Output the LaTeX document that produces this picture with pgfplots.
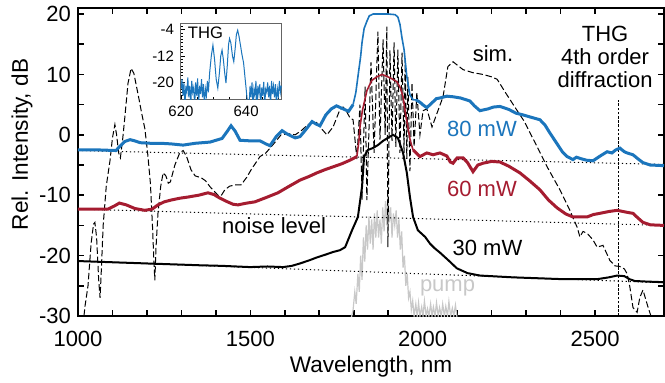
\documentclass[border=0pt]{standalone}
\usepackage{pgfplots}
\pgfplotsset{compat=1.18}
\usepackage{fontspec}
\setmainfont{Liberation Sans}
\definecolor{cblue}{RGB}{27,117,188}
\definecolor{cred}{RGB}{165,28,48}
\definecolor{cgray}{RGB}{200,200,200}
\definecolor{cframe}{RGB}{100,100,100}
\begin{document}
\begin{tikzpicture}
\begin{axis}[
  at={(0pt,0pt)}, anchor=south west,
  scale only axis, width=293pt, height=154pt,
  xmin=1000, xmax=2700, ymin=-30, ymax=21,
  axis line style={line width=1pt},
  tick align=inside,
  xtick={1000,1500,2000,2500}, minor x tick num=4,
  ytick={-30,-20,-10,0,10,20}, minor y tick num=1,
  major tick length=3pt, minor tick length=3pt,
  every tick/.style={line width=0.8pt, black},
  tick label style={font=\fontsize{11}{13}\selectfont},
  /pgf/number format/assume math mode=true,
  /pgf/number format/1000 sep={},
  xticklabel shift=4pt,
  label style={font=\fontsize{11.3}{13}\selectfont},
  xlabel={Wavelength, nm},
  ylabel={Rel. Intensity, dB},
  xlabel style={at={(rel axis cs:0.5,0)}, anchor=base, yshift=-28pt},
  ylabel style={at={(rel axis cs:0,0.557)}, anchor=center, yshift=28pt},
]
% pump
\addplot[cgray, line width=0.6pt] coordinates {
(1790,-31) (1798,-29) (1803,-26) (1807,-28) (1812,-23) (1816,-26) (1820,-20) (1824,-24) (1828,-17) (1832,-21)
(1836,-15) (1840,-19) (1844,-13.5) (1848,-18) (1852,-14) (1856,-19) (1860,-13) (1864,-17) (1868,-12.5) (1872,-17)
(1876,-14) (1880,-18) (1884,-12) (1888,-16) (1892,-11) (1896,-15) (1899,-10) (1903,-14.5) (1907,-12) (1911,-17)
(1915,-13) (1919,-15) (1923,-12.5) (1927,-17) (1931,-14) (1935,-19) (1939,-16) (1943,-22) (1947,-20) (1951,-25)
(1955,-23) (1959,-27) (1963,-26) (1967,-29) (1971,-27.5) (1975,-30) (1980,-28) (1984,-30) (1988,-27.8) (1992,-30)
(1997,-28.5) (2001,-30) (2005,-27.5) (2010,-30) (2014,-28.8) (2018,-30) (2023,-28) (2027,-30) (2031,-28.5) (2036,-30)
(2040,-27.8) (2045,-30) (2049,-28.6) (2054,-30) (2058,-28) (2063,-30) (2067,-28.4) (2072,-30) (2076,-27.6) (2081,-30)
(2086,-28.7) (2090,-30) (2095,-28.2) (2100,-30.5)
};
% noise levels
\addplot[black, line width=0.5pt, dash pattern=on 0.6pt off 1.4pt] coordinates {(1000,-2.6) (2700,-4.9)};
\addplot[black, line width=0.5pt, dash pattern=on 0.6pt off 1.4pt] coordinates {(1000,-12.3) (2700,-15.0)};
\addplot[black, line width=0.5pt, dash pattern=on 0.6pt off 1.4pt] coordinates {(1000,-20.9) (2700,-24.5)};
% THG 4th order marker
\addplot[black, line width=0.5pt, dash pattern=on 1.3pt off 0.8pt] coordinates {(2569,-30) (2569,5.8)};
% simulation
\addplot[black, line width=0.5pt, dash pattern=on 3.2pt off 1.4pt] coordinates {
(1012,-33) (1020,-28.5) (1029,-25) (1038,-18) (1045,-14.8) (1049,-14.5) (1054,-17) (1060,-24) (1064,-27) (1068,-22)
(1073,-15) (1082,-8.5) (1093,-4.2) (1100,-0.5) (1107,1.7) (1112,0) (1118,-3) (1123,-3.8) (1130,-0.5) (1136,3.0)
(1145,8.5) (1154,11) (1162,10.2) (1175,6.5) (1185,3.5) (1194,1) (1202,-3) (1210,-8) (1216,-15) (1221,-22)
(1223,-24.1) (1226,-19) (1232,-13) (1240,-8.5) (1247,-6.3) (1255,-6.8) (1262,-8.0) (1268,-7.8) (1281,-5.0) (1295,-3.0)
(1305,-2.6) (1315,-3.6) (1328,-5.8) (1340,-6.8) (1357,-7.1) (1370,-7.6) (1383,-8.6) (1406,-10) (1415,-10.1) (1426,-9.1)
(1440,-8.5) (1455,-8.3) (1473,-8.3) (1490,-7.0) (1502,-5.8) (1515,-4.7) (1528,-3.6) (1545,-3.0) (1560,-2.0) (1575,-1.0)
(1589,0) (1610,0.2) (1630,0) (1650,0.8) (1667,1.7) (1690,2.2) (1702,1.3) (1722,0) (1740,1.3) (1760,4.2)
(1769,4.6) (1778,4.0) (1789,2.8) (1798,2.5) (1809,-4) (1818,5) (1824,-10.8) (1833,8) (1838,-10.8) (1850,12)
(1859,-3) (1870,17.1) (1876,-0.8) (1885,15.8) (1891,0) (1896,17.9) (1899,-18.6) (1905,14) (1911,-1) (1917,15.3)
(1922,-2) (1928,14.1) (1934,-3) (1940,13.6) (1946,-3) (1949,12.5) (1954,-4) (1957,9.6) (1963,-6) (1969,8.6)
(1975,-2) (1983,7) (1992,0) (2001,4) (2012,4.3) (2027,1.3) (2041,3.5) (2059,6.3) (2073,11.3) (2088,12.1)
(2117,10.8) (2145,10.3) (2175,10.0) (2200,9.6) (2216,9.2) (2240,7.0) (2265,4.8) (2295,2.2) (2325,-1.2) (2361,-5.3)
(2398,-9.1) (2427,-12.5) (2448,-15.3) (2456,-16.9) (2465,-16.0) (2477,-16.3) (2494,-17.4) (2506,-18.6) (2523,-18.3) (2543,-20.8)
(2558,-21.7) (2572,-21.8) (2585,-22.2) (2593,-23) (2601,-25.2) (2610,-28.6) (2622,-29.4) (2630,-26.9) (2639,-25.7) (2654,-28.6)
(2668,-31)
};
% 30 mW
\addplot[black, line width=1pt] coordinates {
(1000,-20.9) (1100,-21.1) (1200,-21.3) (1354,-21.6) (1420,-21.7) (1499,-21.9) (1550,-21.8) (1595,-21.9) (1620,-21.7) (1644,-21.3)
(1670,-20.8) (1693,-20.3) (1720,-19.8) (1740,-19.4) (1760,-19.1) (1775,-18.6) (1795,-15.8) (1812,-13.6) (1824,-8.6) (1830,-3.6)
(1841,-2.5) (1855,-2.2) (1870,-1.7) (1885,-1.0) (1899,-0.5) (1914,0.0) (1928,-0.5) (1943,-3.0) (1954,-6.3) (1963,-10.3)
(1972,-13.6) (1986,-15.8) (2007,-16.9) (2021,-18.0) (2035,-18.8) (2050,-19.5) (2075,-20.8) (2099,-22.1) (2130,-22.9) (2166,-23.3)
(2262,-23.6) (2407,-23.9) (2506,-23.9) (2540,-23.6) (2564,-23.3) (2585,-23.4) (2600,-23.9) (2615,-24.2) (2650,-24.3) (2700,-24.4)
};
% 60 mW
\addplot[cred, line width=1.5pt] coordinates {
(1000,-12.3) (1087,-12.3) (1105,-11.8) (1120,-11.3) (1140,-11.6) (1165,-12.2) (1194,-12.5) (1215,-12.3) (1232,-11.6) (1250,-11.1)
(1270,-10.8) (1295,-10.5) (1319,-10.3) (1350,-10.0) (1377,-9.6) (1395,-9.9) (1406,-10.3) (1430,-11.0) (1450,-11.5) (1464,-11.6)
(1490,-11.3) (1513,-11.1) (1545,-10.4) (1580,-9.6) (1610,-8.6) (1644,-7.5) (1670,-6.9) (1693,-6.3) (1715,-5.8) (1740,-5.3)
(1765,-4.8) (1789,-4.2) (1809,-3.6)
};
\addplot[cred, line width=0.8pt] coordinates {
(1809,-3.6) (1815,-1) (1818,1.3) (1825,4) (1838,7.3) (1852,9.0) (1867,9.6) (1882,10.0) (1895,9.7) (1910,9.3)
(1925,8.8) (1935,7.8) (1943,6.3) (1950,3.5) (1957,1.3) (1964,-1.0) (1972,-2.5)
};
\addplot[cred, line width=1.5pt] coordinates {
(1972,-2.5) (1992,-3.6) (2012,-3.0) (2030,-3.3) (2050,-3.0) (2070,-3.5) (2080,-4.5) (2088,-4.7) (2100,-3.8) (2117,-3.8)
(2130,-4.6) (2146,-6.1) (2160,-5.0) (2175,-4.7) (2200,-4.4) (2224,-4.5) (2250,-5.2) (2282,-6.3) (2310,-7.6) (2340,-9.1)
(2365,-10.8) (2390,-12.1) (2415,-13.1) (2436,-13.6) (2455,-13.6) (2477,-13.6) (2495,-13.2) (2514,-13.0) (2540,-12.7) (2564,-12.5)
(2590,-12.8) (2610,-13.0) (2625,-13.8) (2639,-14.5) (2660,-14.9) (2700,-15.0)
};
% 80 mW
\addplot[cblue, line width=1.5pt] coordinates {
(1000,-2.5) (1060,-2.5) (1110,-2.6) (1120,-2.0) (1136,-1.1) (1151,-0.8) (1165,-1.0) (1180,-1.3) (1210,-1.4) (1240,-1.4)
(1270,-1.5) (1305,-1.7) (1340,-1.4) (1383,-1.2) (1418,-0.6) (1432,0.5) (1444,1.5) (1456,0.6) (1470,-0.9) (1500,-1.0)
(1528,-1.0) (1545,-1.5) (1557,-1.8) (1575,-0.3) (1592,0.7) (1605,0.2) (1615,-0.1) (1630,-0.5) (1644,-0.3) (1660,0.8)
(1679,2.2) (1690,1.8) (1702,1.5) (1719,3.3) (1735,4.3) (1750,4.8) (1769,4.3) (1785,3.9) (1798,5.0)
};
\addplot[cblue, line width=0.8pt] coordinates {
(1798,5.0) (1806,7) (1812,9.6) (1820,13) (1824,15.3) (1830,17.6) (1838,18.8) (1845,19.7) (1856,20) (1900,20)
(1920,19.9) (1928,19.5) (1934,18.3) (1940,16) (1946,14.1) (1954,9.6) (1963,6.6) (1972,5.8) (1980,5.8)
};
\addplot[cblue, line width=1.5pt] coordinates {
(1980,5.8) (1992,5.4) (2000,5.0) (2012,4.5) (2025,5.2) (2040,6.0) (2050,6.1) (2070,6.4) (2088,6.3) (2110,6.1)
(2137,5.6) (2150,4.8) (2166,4.0) (2190,4.3) (2205,4.6) (2224,4.7) (2250,4.2) (2270,3.6) (2291,3.3) (2315,2.9)
(2340,2.5) (2355,1.6) (2369,0.3) (2390,-1.5) (2405,-2.8) (2419,-3.6) (2436,-4.1) (2446,-3.7) (2456,-3.9) (2475,-4.2)
(2494,-4.3) (2515,-3.5) (2535,-2.8) (2549,-3.0) (2560,-2.5) (2572,-2.2) (2585,-2.8) (2593,-3.0) (2610,-3.3) (2625,-4.0)
(2639,-4.6) (2660,-5.0) (2700,-5.1)
};
% annotations
\path[font=\fontsize{11}{13}\selectfont]
  (axis cs:2204,12.1) node[anchor=base] {sim.}
  (axis cs:2529,15.4) node[anchor=base] {THG}
  (axis cs:2529,11.6) node[anchor=base] {4th order}
  (axis cs:2529,7.8) node[anchor=base] {diffraction}
  (axis cs:2172,-0.3) node[anchor=base, text=cblue] {80 mW}
  (axis cs:2172,-10.2) node[anchor=base, text=cred] {60 mW}
  (axis cs:2188,-19.9) node[anchor=base] {30 mW}
  (axis cs:1569,-16.3) node[anchor=base] {noise level}
  (axis cs:2072,-26.0) node[anchor=base, text=cgray] {pump};
\end{axis}
% inset
\begin{axis}[
  at={(51.5pt,108.5pt)}, anchor=south west,
  scale only axis, width=50.5pt, height=38pt,
  xmin=620, xmax=651, ymin=-25, ymax=-2,
  axis background/.style={fill=white},
  axis line style={cframe, line width=0.5pt},
  xtick={620,640}, minor xtick={625,630,635,645,650},
  ytick={-4,-12,-20}, minor ytick={-24,-23,...,-3},
  xtick pos=left, ytick pos=left,
  tick align=inside,
  major tick length=2pt, minor tick length=1.2pt,
  every tick/.style={line width=0.4pt, black},
  tick label style={font=\fontsize{7.5}{9}\selectfont},
  /pgf/number format/assume math mode=true,
]
\addplot[cblue, line width=0.5pt] coordinates {
(620,-22) (620.3,-19) (620.6,-24) (620.9,-20) (621.2,-27) (621.5,-21) (621.8,-23) (622.1,-18.5) (622.4,-24.5) (622.7,-21)
(623,-27) (623.3,-19.5) (623.6,-23) (623.9,-21.5) (624.2,-27) (624.5,-20) (624.8,-24) (625.1,-18.8) (625.4,-27) (625.7,-21)
(626,-23.5) (626.3,-19) (626.6,-24.5) (626.9,-20.5) (627.2,-27) (627.5,-22) (627.8,-24) (628.1,-19.5) (628.4,-23) (628.8,-17)
(629.3,-12) (629.8,-8.7) (630.3,-13) (630.8,-19) (631.3,-21.7) (631.8,-17) (632.2,-12) (632.6,-10.2) (633,-13) (633.4,-17)
(633.8,-20.2) (634.2,-15) (634.6,-8.5) (634.9,-6.7) (635.3,-8) (635.8,-12) (636.2,-13.7) (636.6,-10) (637,-5.5) (637.4,-4.2)
(637.8,-6) (638.3,-9) (638.7,-11.5) (639.2,-14) (639.7,-19) (640.1,-23) (640.5,-27) (640.9,-27) (641.2,-21) (641.5,-24.5)
(641.8,-20) (642.1,-27) (642.4,-22) (642.7,-24) (643,-19.5) (643.3,-27) (643.6,-21) (643.9,-23.5) (644.2,-20.5) (644.5,-27)
(644.8,-21.5) (645.1,-24) (645.4,-19.8) (645.7,-27) (646,-22) (646.3,-23) (646.6,-20) (646.9,-24.5) (647.2,-21) (647.5,-27)
(647.8,-19.5) (648.1,-23.5) (648.4,-21) (648.7,-24.5) (649,-20.5) (649.3,-27) (649.6,-22) (649.9,-24) (650.2,-19.5) (650.5,-23)
(650.8,-21)
};
\node[anchor=base, font=\fontsize{8.3}{10}\selectfont] at (axis cs:627.5,-6.7) {THG};
\end{axis}
\pgfresetboundingbox
\path[use as bounding box] (-39pt,-33pt) rectangle (293.5pt,158pt);
\end{tikzpicture}
\end{document}
